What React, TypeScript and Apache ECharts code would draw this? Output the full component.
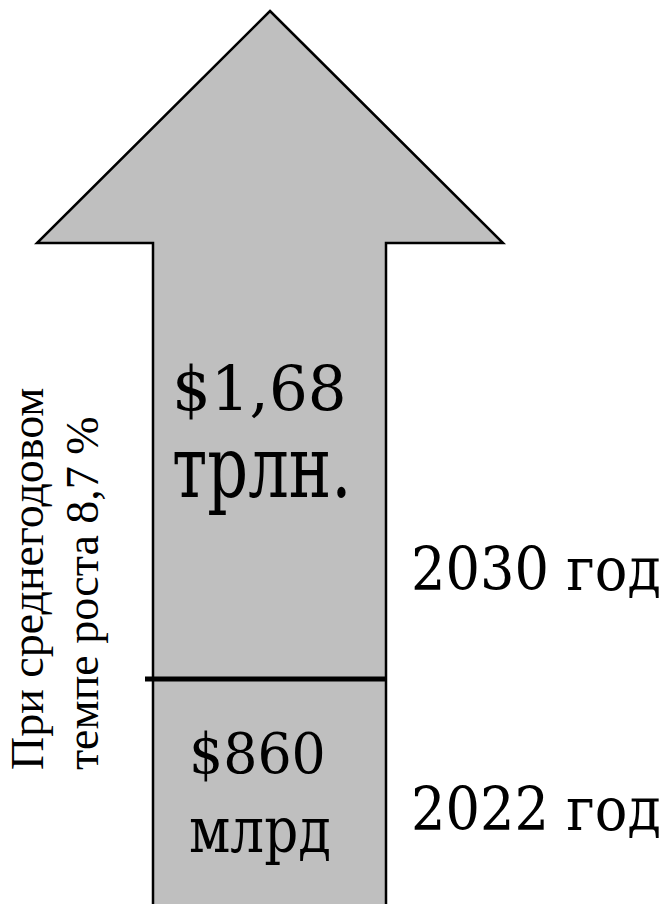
import React, { useEffect, useRef } from "react";
import * as echarts from "echarts";

// Infographic content
const years = ["2022 год", "2030 год"];
const amounts = ["$860", "$1,68"];
const units = ["млрд", "трлн."];
const noteLines = ["При среднегодовом", "темпе роста 8,7 %"];

const FILL = "#bfbfbf";
const SERIF_MAIN = "DejaVu Serif";
const SERIF_NOTE = "Liberation Serif";

function txt(
  text: string,
  x: number,
  baseline: number,
  fontSize: number,
  sx: number,
  sy: number,
  family: string
) {
  return {
    type: "text",
    x,
    y: baseline - 0.35 * fontSize * sy,
    scaleX: sx,
    scaleY: sy,
    style: {
      x: 0,
      y: 0,
      text,
      fontSize,
      fontFamily: family,
      fill: "#000",
      align: "left",
      verticalAlign: "middle",
    },
    silent: true,
  };
}

export default function App() {
  const ref = useRef<HTMLDivElement>(null);
  useEffect(() => {
    if (!ref.current) return;
    const chart = echarts.init(ref.current, null, { renderer: "svg" });
    const arrow = [
      [270, 11],
      [503, 243],
      [386, 243],
      [386, 912],
      [153, 912],
      [153, 243],
      [37, 243],
    ];
    const graphic: any[] = [
      {
        type: "polygon",
        shape: { points: arrow },
        style: { fill: FILL, stroke: "#000", lineWidth: 2.5, lineJoin: "miter" },
        silent: true,
      },
      {
        type: "line",
        shape: { x1: 145, y1: 679, x2: 386, y2: 679 },
        style: { stroke: "#000", lineWidth: 5 },
        silent: true,
      },
      // 2030 value
      txt(amounts[1], 172, 410, 61, 1.0, 1, SERIF_MAIN),
      txt(units[1], 172, 497, 62, 1.03, 1.38, SERIF_MAIN),
      // 2022 value
      txt(amounts[0], 189, 773, 56, 0.96, 1, SERIF_MAIN),
      txt(units[0], 189, 852, 56, 0.95, 1.15, SERIF_MAIN),
      // years
      txt(years[1], 411, 590, 59, 0.92, 1, SERIF_MAIN),
      txt(years[0], 411, 830, 59, 0.92, 1, SERIF_MAIN),
    ];
    // rotated note
    const noteBase = [44, 99];
    noteLines.forEach((line, i) => {
      const fs = 46;
      graphic.push({
        type: "text",
        x: noteBase[i] - 0.35 * fs,
        y: 770,
        rotation: Math.PI / 2,
        style: {
          x: 0,
          y: 0,
          text: line,
          fontSize: fs,
          fontFamily: SERIF_NOTE,
          fill: "#000",
          align: "left",
          verticalAlign: "middle",
        },
        silent: true,
      });
    });
    chart.setOption({
      animation: false,
      backgroundColor: "#fff",
      graphic,
    });
    return () => chart.dispose();
  }, []);
  return (
    <div
      ref={ref}
      style={{ position: "absolute", left: 0, top: 0, width: 667, height: 904 }}
    />
  );
}
